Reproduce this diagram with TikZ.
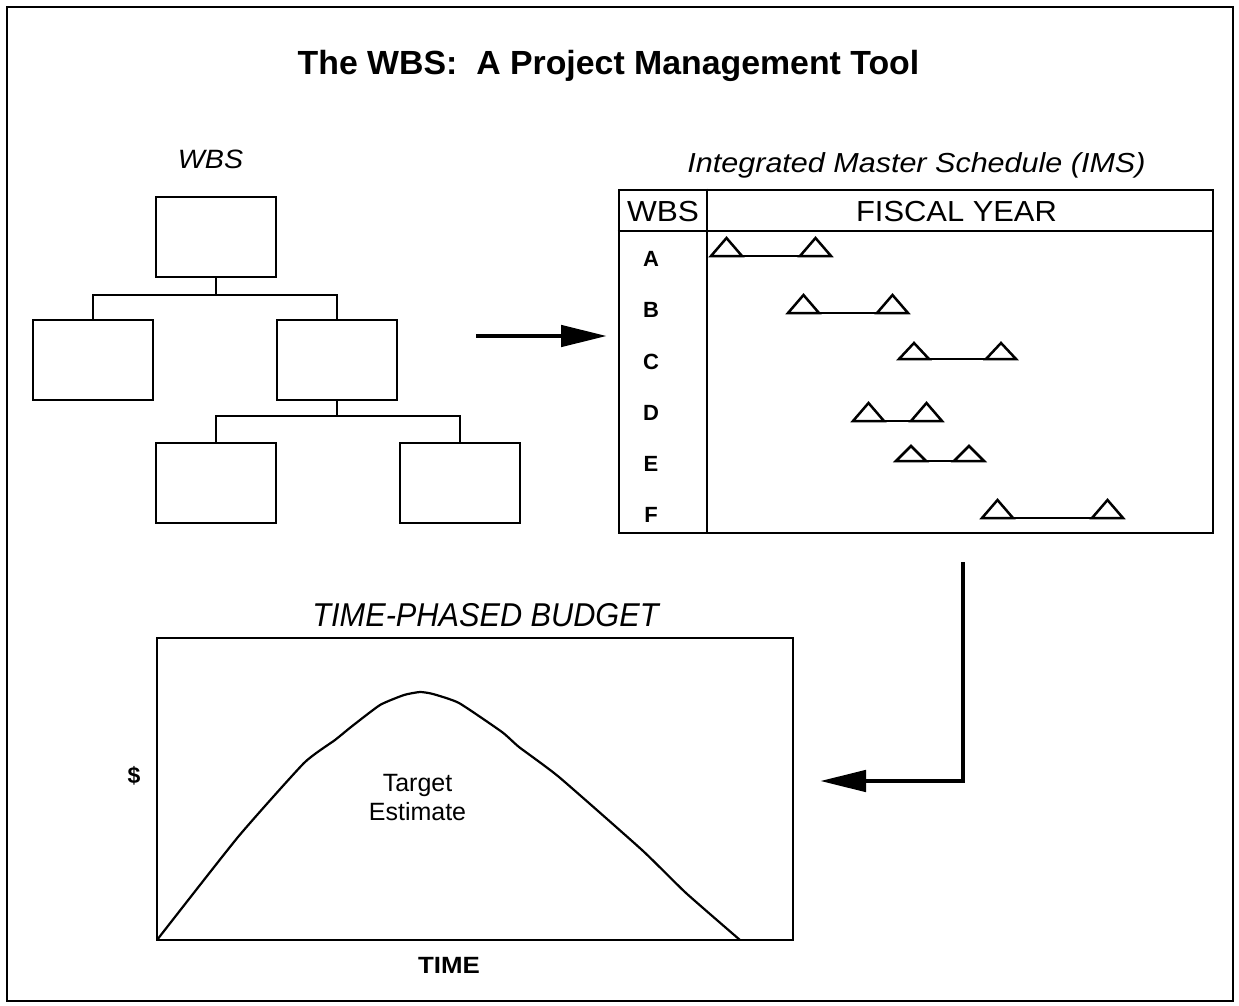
\documentclass[tikz,border=0pt]{standalone}
\usepackage{fontspec}
\setmainfont{Liberation Sans}
\usepackage{graphicx}
\usetikzlibrary{arrows.meta}
\newcommand{\fsz}[1]{\fontsize{#1}{#1}\selectfont}
\newcommand{\hsx}[2]{\scalebox{#1}[1]{#2}}
\newcommand{\msrow}[5]{% x1, x2, base y, height, width
  \draw[ms] (#1,#3) -- (#2,#3);
  \draw[ms] (#1,#3) -- ++(#5/2,-#4) -- ++(#5/2,#4) -- cycle;
  \draw[ms] (#2,#3) -- ++(#5/2,-#4) -- ++(#5/2,#4) -- cycle;
}
\begin{document}
\begin{tikzpicture}[x=1pt,y=-1pt,
  wbsbox/.style={draw, line width=2.6pt, minimum width=120pt, minimum height=80pt, inner sep=0pt},
  treeline/.style={line width=2.4pt},
  bigarrow/.style={line width=4.8pt, line join=miter, -{Triangle[length=46pt,width=21pt]}},
  lbl/.style={anchor=base, inner sep=0pt},
  ms/.style={line width=2.5pt, line join=miter},
  frame/.style={draw, line width=2.6pt, inner sep=0pt},
]
\useasboundingbox (0,0) rectangle (1239,1006);
\draw[line width=2.2pt] (7,7) rectangle (1233,1001);

% title
\node[lbl, font=\bfseries\fsz{33.5}] (title) at (608.5,75) {\hsx{1.01}{The WBS:\ \ A Project Management Tool}};

% WBS tree
\node[lbl, font=\itshape\fsz{26.5}] (wbslbl) at (210.5,168) {\hsx{1.08}{WBS}};
\node[wbsbox] (w0) at (216,237) {};
\node[wbsbox] (w1) at (93,360) {};
\node[wbsbox] (w2) at (337,360) {};
\node[wbsbox] (w3) at (216,483) {};
\node[wbsbox] (w4) at (460,483) {};
\coordinate (j0) at (216,295);
\coordinate (j1) at (337,416);
\draw[treeline] (w0.south) -- (j0);
\draw[treeline] (w1.north) |- (j0) -| (w2.north);
\draw[treeline] (w2.south) -- (j1);
\draw[treeline] (w3.north) |- (j1) -| (w4.north);

% arrow WBS -> IMS
\coordinate (a1s) at (476,336);
\coordinate (a1e) at (607,336);
\draw[bigarrow] (a1s) -- (a1e);

% IMS
\node[lbl, font=\itshape\fsz{27.5}] (imslbl) at (916.5,172) {\hsx{1.11}{Integrated Master Schedule (IMS)}};
\node[frame, minimum width=594pt, minimum height=343pt] (ims) at (916,361.5) {};
\draw[line width=2.6pt] (ims.west |- 0,231) -- (ims.east |- 0,231);
\draw[line width=2.6pt] (ims.north -| 707,0) -- (ims.south -| 707,0);
\node[lbl, font=\fsz{29}] (hwbs) at (663,221) {\hsx{1.09}{WBS}};
\node[lbl, font=\fsz{29}] (hfy) at (956.5,221) {\hsx{1.065}{FISCAL YEAR}};
\node[lbl, font=\bfseries\fsz{22}] (rA) at (651,266.5) {A};
\node[lbl, font=\bfseries\fsz{22}] (rB) at (651,317.5) {B};
\node[lbl, font=\bfseries\fsz{22}] (rC) at (651,369) {C};
\node[lbl, font=\bfseries\fsz{22}] (rD) at (651,420) {D};
\node[lbl, font=\bfseries\fsz{22}] (rE) at (651,471) {E};
\node[lbl, font=\bfseries\fsz{22}] (rF) at (651,522.5) {F};
\msrow{711}{800}{256}{18}{31}
\msrow{788}{877}{313}{18}{31}
\msrow{899}{986}{359}{16}{30}
\msrow{853}{911}{421}{18}{31}
\msrow{896}{954}{461}{15}{30}
\msrow{982}{1092}{518}{18}{31}

% arrow IMS -> budget
\coordinate (a2s) at (963,562);
\coordinate (a2e) at (820,781);
\draw[bigarrow] (a2s) |- (a2e);

% budget
\node[lbl, font=\itshape\fsz{33}] (budlbl) at (485.5,626) {\hsx{0.93}{TIME-PHASED BUDGET}};
\node[frame, minimum width=636pt, minimum height=302pt] (bud) at (475,789) {};
\draw[line width=2.2pt, line join=round] plot[smooth, tension=0.3] coordinates {
  (157,940) (238,837) (304,763) (335,740) (351,727) (380,705) (404,695)
  (420,692) (433,694) (459,703) (502,732) (519,747) (559,777) (642,850) (686,893) (740,940)};
\node[lbl, font=\bfseries\fsz{23}] (dollar) at (134,783) {\$};
\node[lbl, font=\fsz{25}] (tgt) at (417.5,791) {Target};
\node[lbl, font=\fsz{25}] (est) at (417.5,820) {Estimate};
\node[lbl, font=\bfseries\fsz{23.5}] (time) at (449,973) {\hsx{1.1}{TIME}};
\end{tikzpicture}
\end{document}
